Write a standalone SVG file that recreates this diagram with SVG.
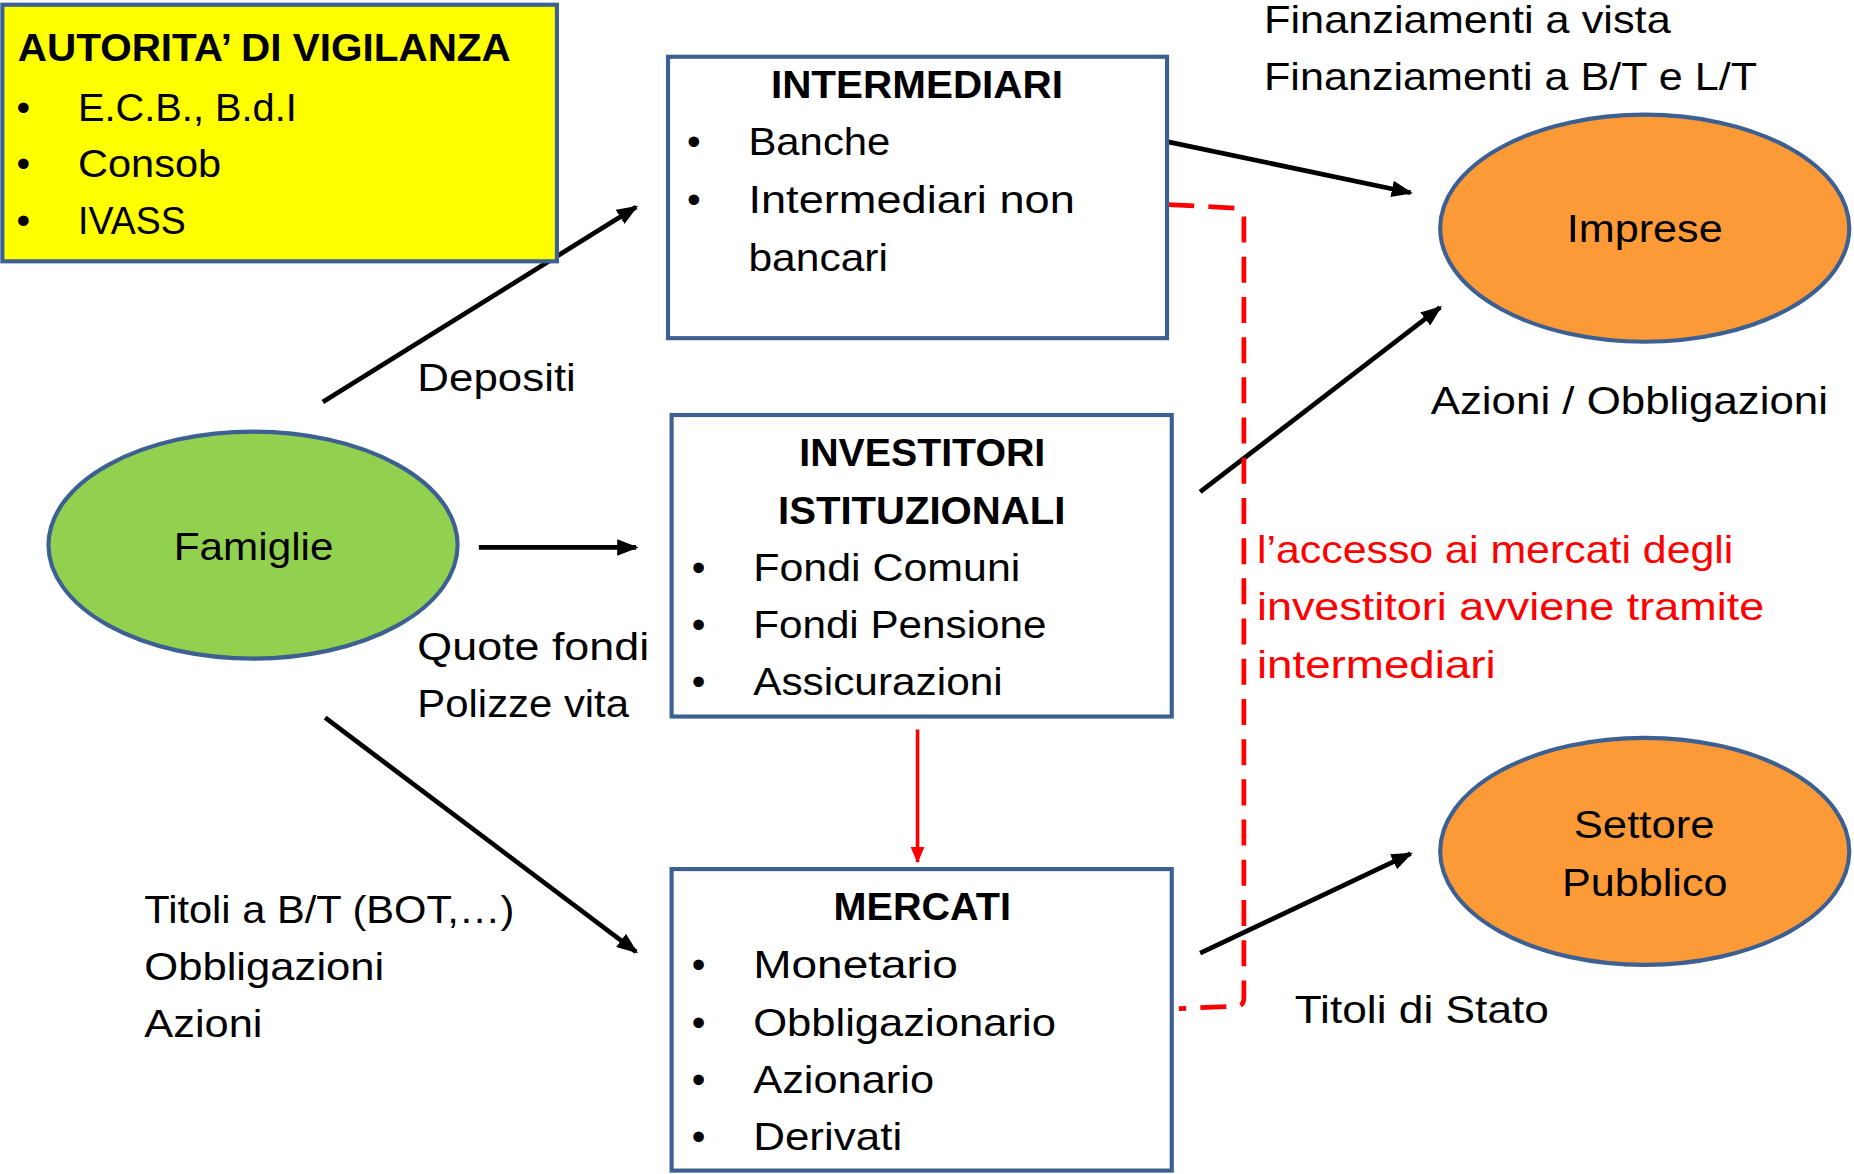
<svg xmlns="http://www.w3.org/2000/svg" width="1854" height="1174" viewBox="0 0 1854 1174">
<defs>
<style>
.t{font-family:"Liberation Sans",Arial,sans-serif;font-size:33px;fill:#000}
.b{font-weight:bold}
.r{fill:#ff0000}
.m{text-anchor:middle}
.box{fill:#fff;stroke:#3d6093;stroke-width:3.5}
.ell{stroke:#3d6093;stroke-width:3.5}
.ar{stroke:#000;stroke-width:4;fill:none;marker-end:url(#ah)}
</style>
<marker id="ah" markerUnits="userSpaceOnUse" markerWidth="18" markerHeight="14" refX="16" refY="7" orient="auto">
<path d="M0,0 L18,7 L0,14 Z" fill="#000"/>
</marker>
<marker id="ahr" markerUnits="userSpaceOnUse" markerWidth="14" markerHeight="12" refX="13" refY="6" orient="auto">
<path d="M0,0 L14,6 L0,12 Z" fill="#ff0000"/>
</marker>
</defs>
<rect width="1854" height="1174" fill="#fff"/>
<g transform="scale(1.1824)">
<g id="connectors">
<line class="ar" x1="273" y1="340" x2="538" y2="175"/>
<line class="ar" x1="405" y1="463" x2="538" y2="463"/>
<line class="ar" x1="275" y1="607" x2="538" y2="805"/>
<line class="ar" x1="988" y1="120" x2="1193" y2="163"/>
<line class="ar" x1="1015" y1="416" x2="1218" y2="260"/>
<line class="ar" x1="1015" y1="806" x2="1193" y2="722"/>
<line x1="776" y1="617" x2="776" y2="729" stroke="#ff0000" stroke-width="3" marker-end="url(#ahr)"/>
<path d="M988,173 L1045,176 Q1052,177 1052,184 L1052,844 Q1052,851 1045,851 L997,853" fill="none" stroke="#ff0000" stroke-width="4" stroke-dasharray="22 12"/>
</g>
<g id="autorita">
<rect x="2" y="4" width="469" height="217" fill="#ffff00" stroke="#3d6093" stroke-width="3.5"/>
<text class="t b" x="15" y="52" textLength="417" lengthAdjust="spacingAndGlyphs">AUTORITA’ DI VIGILANZA</text>
<text class="t" x="14" y="102">•</text>
<text class="t" x="66" y="102" textLength="185" lengthAdjust="spacingAndGlyphs">E.C.B., B.d.I</text>
<text class="t" x="14" y="150">•</text>
<text class="t" x="66" y="150" textLength="121" lengthAdjust="spacingAndGlyphs">Consob</text>
<text class="t" x="14" y="198">•</text>
<text class="t" x="66" y="198" textLength="91" lengthAdjust="spacingAndGlyphs">IVASS</text>
</g>
<g id="intermediari">
<rect class="box" x="565" y="48" width="422" height="238"/>
<text class="t b" x="652" y="83" textLength="247" lengthAdjust="spacingAndGlyphs">INTERMEDIARI</text>
<text class="t" x="581" y="131">•</text>
<text class="t" x="633" y="131" textLength="120" lengthAdjust="spacingAndGlyphs">Banche</text>
<text class="t" x="581" y="180">•</text>
<text class="t" x="633" y="180" textLength="276" lengthAdjust="spacingAndGlyphs">Intermediari non</text>
<text class="t" x="633" y="229" textLength="118" lengthAdjust="spacingAndGlyphs">bancari</text>
</g>
<g id="investitori">
<rect class="box" x="568" y="351" width="423" height="255"/>
<text class="t b" x="676" y="394" textLength="208" lengthAdjust="spacingAndGlyphs">INVESTITORI</text>
<text class="t b" x="658" y="443" textLength="243" lengthAdjust="spacingAndGlyphs">ISTITUZIONALI</text>
<text class="t" x="585" y="491">•</text>
<text class="t" x="637" y="491" textLength="226" lengthAdjust="spacingAndGlyphs">Fondi Comuni</text>
<text class="t" x="585" y="540">•</text>
<text class="t" x="637" y="540" textLength="248" lengthAdjust="spacingAndGlyphs">Fondi Pensione</text>
<text class="t" x="585" y="588">•</text>
<text class="t" x="637" y="588" textLength="211" lengthAdjust="spacingAndGlyphs">Assicurazioni</text>
</g>
<g id="mercati">
<rect class="box" x="568" y="735" width="423" height="255"/>
<text class="t b" x="705" y="778" textLength="150" lengthAdjust="spacingAndGlyphs">MERCATI</text>
<text class="t" x="585" y="827">•</text>
<text class="t" x="637" y="827" textLength="173" lengthAdjust="spacingAndGlyphs">Monetario</text>
<text class="t" x="585" y="876">•</text>
<text class="t" x="637" y="876" textLength="256" lengthAdjust="spacingAndGlyphs">Obbligazionario</text>
<text class="t" x="585" y="924">•</text>
<text class="t" x="637" y="924" textLength="153" lengthAdjust="spacingAndGlyphs">Azionario</text>
<text class="t" x="585" y="973">•</text>
<text class="t" x="637" y="973" textLength="126" lengthAdjust="spacingAndGlyphs">Derivati</text>
</g>
<g id="famiglie">
<ellipse class="ell" cx="214" cy="461" rx="173" ry="96" fill="#92d050"/>
<text class="t" x="147" y="474" textLength="135" lengthAdjust="spacingAndGlyphs">Famiglie</text>
</g>
<g id="imprese">
<ellipse class="ell" cx="1391" cy="193" rx="173" ry="96" fill="#fd9a38"/>
<text class="t" x="1325" y="205" textLength="132" lengthAdjust="spacingAndGlyphs">Imprese</text>
</g>
<g id="settore">
<ellipse class="ell" cx="1391" cy="720" rx="173" ry="96" fill="#fd9a38"/>
<text class="t" x="1331" y="709" textLength="119" lengthAdjust="spacingAndGlyphs">Settore</text>
<text class="t" x="1321" y="758" textLength="140" lengthAdjust="spacingAndGlyphs">Pubblico</text>
</g>
<g id="labels">
<text class="t" x="353" y="331" textLength="134" lengthAdjust="spacingAndGlyphs">Depositi</text>
<text class="t" x="353" y="558" textLength="196" lengthAdjust="spacingAndGlyphs">Quote fondi</text>
<text class="t" x="353" y="606" textLength="179" lengthAdjust="spacingAndGlyphs">Polizze vita</text>
<text class="t" x="122" y="781" textLength="313" lengthAdjust="spacingAndGlyphs">Titoli a B/T (BOT,…)</text>
<text class="t" x="122" y="829" textLength="203" lengthAdjust="spacingAndGlyphs">Obbligazioni</text>
<text class="t" x="122" y="877" textLength="100" lengthAdjust="spacingAndGlyphs">Azioni</text>
<text class="t" x="1069" y="28" textLength="344" lengthAdjust="spacingAndGlyphs">Finanziamenti a vista</text>
<text class="t" x="1069" y="76" textLength="417" lengthAdjust="spacingAndGlyphs">Finanziamenti a B/T e L/T</text>
<text class="t" x="1210" y="350" textLength="336" lengthAdjust="spacingAndGlyphs">Azioni / Obbligazioni</text>
<text class="t r" x="1063" y="476" textLength="403" lengthAdjust="spacingAndGlyphs">l’accesso ai mercati degli</text>
<text class="t r" x="1063" y="524" textLength="429" lengthAdjust="spacingAndGlyphs">investitori avviene tramite</text>
<text class="t r" x="1063" y="573" textLength="202" lengthAdjust="spacingAndGlyphs">intermediari</text>
<text class="t" x="1095" y="865" textLength="215" lengthAdjust="spacingAndGlyphs">Titoli di Stato</text>
</g>
</g>
</svg>
